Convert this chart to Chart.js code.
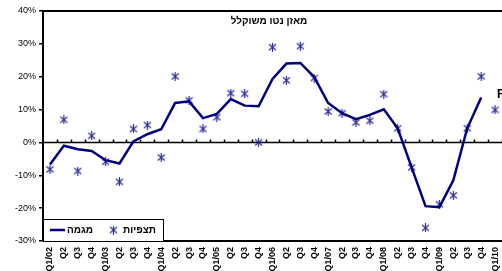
<!DOCTYPE html>
<html>
<head>
<meta charset="utf-8">
<script src="https://cdn.jsdelivr.net/npm/chart.js@4"></script>
<style>
  body { margin: 0; background: #fff; }
  canvas { display: block; }
</style>
</head>
<body>
<canvas id="grafico" width="502" height="271"></canvas>
<script>
const rotulos = ['Q1/02','Q2','Q3','Q4','Q1/03','Q2','Q3','Q4','Q1/04','Q2','Q3','Q4',
  'Q1/05','Q2','Q3','Q4','Q1/06','Q2','Q3','Q4','Q1/07','Q2','Q3','Q4',
  'Q1/08','Q2','Q3','Q4','Q1/09','Q2','Q3','Q4','Q1/10'];
const megama = [-6.7, -1.0, -2.1, -2.6, -5.4, -6.4, 0.3, 2.5, 4.0, 12.0, 12.5, 7.4,
  8.7, 13.2, 11.2, 11.0, 19.3, 24.0, 24.2, 19.9, 12.0, 8.9, 7.1, 8.4,
  10.1, 4.3, -7.6, -19.4, -19.7, -11.5, 4.3, 13.7, null];
const tatzpiyot = [-8.2, 6.9, -8.7, 2.0, -5.9, -12.0, 4.1, 5.3, -4.6, 20.1, 12.8, 4.1,
  7.7, 15.0, 14.8, 0.0, 29.0, 18.9, 29.3, 19.6, 9.4, 8.9, 6.1, 6.6,
  14.7, 4.3, -7.6, -26.0, -18.8, -16.1, 4.3, 20.1, 9.9];
const titulo = 'מאזן נטו משוקלל';

// marcador tipo estrella de excel (x con linea vertical)
function estrella(color) {
  const c = document.createElement('canvas');
  c.width = 9; c.height = 9;
  const g = c.getContext('2d');
  g.strokeStyle = color;
  g.lineWidth = 1.2;
  g.beginPath();
  g.moveTo(1, 1.5); g.lineTo(8, 7.5);
  g.moveTo(8, 1.5); g.lineTo(1, 7.5);
  g.moveTo(4.5, 0); g.lineTo(4.5, 9);
  g.stroke();
  return c;
}
const marca = estrella('#2e2e9e');

const marco = {
  id: 'marco',
  beforeDatasetsDraw(chart) {
    const { ctx, chartArea: a, scales } = chart;
    const y0 = scales.y.getPixelForValue(0);
    const n = rotulos.length;
    const ancho = (a.right - a.left) / n;
    ctx.save();
    ctx.strokeStyle = '#000';
    ctx.lineWidth = 2;
    ctx.beginPath();
    ctx.moveTo(a.left, a.top); ctx.lineTo(a.right, a.top);
    ctx.moveTo(a.left, a.top); ctx.lineTo(a.left, a.bottom);
    ctx.moveTo(a.left, a.bottom); ctx.lineTo(a.right, a.bottom);
    ctx.stroke();
    ctx.lineWidth = 1.5;
    ctx.beginPath();
    ctx.moveTo(a.left, y0); ctx.lineTo(a.right, y0);
    for (let i = 1; i <= n; i++) {
      const x = Math.round(a.left + i * ancho) + 0.5;
      ctx.moveTo(x, y0); ctx.lineTo(x, y0 - 3);
    }
    ctx.stroke();
    ctx.fillStyle = '#000';
    ctx.font = 'bold 10px "Liberation Sans", Arial, sans-serif';
    ctx.textAlign = 'center';
    ctx.textBaseline = 'middle';
    ctx.fillText(titulo, 269, 21);
    ctx.restore();
  },
  afterDatasetsDraw(chart) {
    const { ctx, chartArea: a } = chart;
    ctx.save();
    ctx.fillStyle = '#fff';
    ctx.fillRect(a.left, 219, 120, a.bottom - 219);
    ctx.strokeStyle = '#000';
    ctx.lineWidth = 1;
    ctx.strokeRect(a.left + 0.5, 219.5, 120, a.bottom - 219);
    const yc = 230;
    ctx.strokeStyle = '#000080';
    ctx.lineWidth = 2.5;
    ctx.beginPath();
    ctx.moveTo(50, yc); ctx.lineTo(65, yc);
    ctx.stroke();
    ctx.drawImage(marca, 109, yc - 4.5);
    ctx.fillStyle = '#000';
    ctx.font = 'bold 10px "Liberation Sans", Arial, sans-serif';
    ctx.textBaseline = 'middle';
    ctx.textAlign = 'left';
    ctx.fillText('מגמה', 67, yc);
    ctx.fillText('תצפיות', 123, yc);
    ctx.font = 'bold 12px "Liberation Sans", Arial, sans-serif';
    ctx.fillText('F', 497, 95);
    ctx.restore();
  }
};

const ctx = document.getElementById('grafico').getContext('2d');
const grafico = new Chart(ctx, {
  type: 'line',
  data: {
    labels: rotulos,
    datasets: [{
      label: 'מגמה',
      data: megama,
      borderColor: '#000080',
      borderWidth: 2.5,
      pointRadius: 0,
      tension: 0,
      fill: false
    }, {
      label: 'תצפיות',
      data: tatzpiyot,
      showLine: false,
      pointStyle: marca,
      pointRadius: 4.5
    }]
  },
  options: {
    responsive: false,
    animation: false,
    devicePixelRatio: 1,
    layout: { autoPadding: false, padding: { top: 11, right: 0, left: 0, bottom: 0 } },
    plugins: { legend: { display: false }, tooltip: { enabled: false } },
    scales: {
      x: {
        offset: true,
        grid: { display: false, drawTicks: false },
        border: { display: false },
        ticks: {
          minRotation: 90, maxRotation: 90, autoSkip: false, padding: 6,
          color: '#000',
          font: { family: '"Liberation Sans", Arial, sans-serif', size: 9, weight: 'bold' }
        },
        afterFit(s) { s.height = 30; s.paddingRight = 0; s.paddingLeft = 0; }
      },
      y: {
        min: -30, max: 40,
        ticks: {
          stepSize: 10, padding: 3, color: '#000',
          font: { family: '"Liberation Sans", Arial, sans-serif', size: 9 },
          callback: v => v + '%'
        },
        grid: {
          color: c => 'transparent',
          tickColor: '#000', tickLength: 4, lineWidth: 1.5
        },
        border: { display: false },
        afterFit(s) { s.width = 43; s.paddingTop = 0; s.paddingBottom = 0; }
      }
    }
  },
  plugins: [marco]
});
</script>
</body>
</html>
